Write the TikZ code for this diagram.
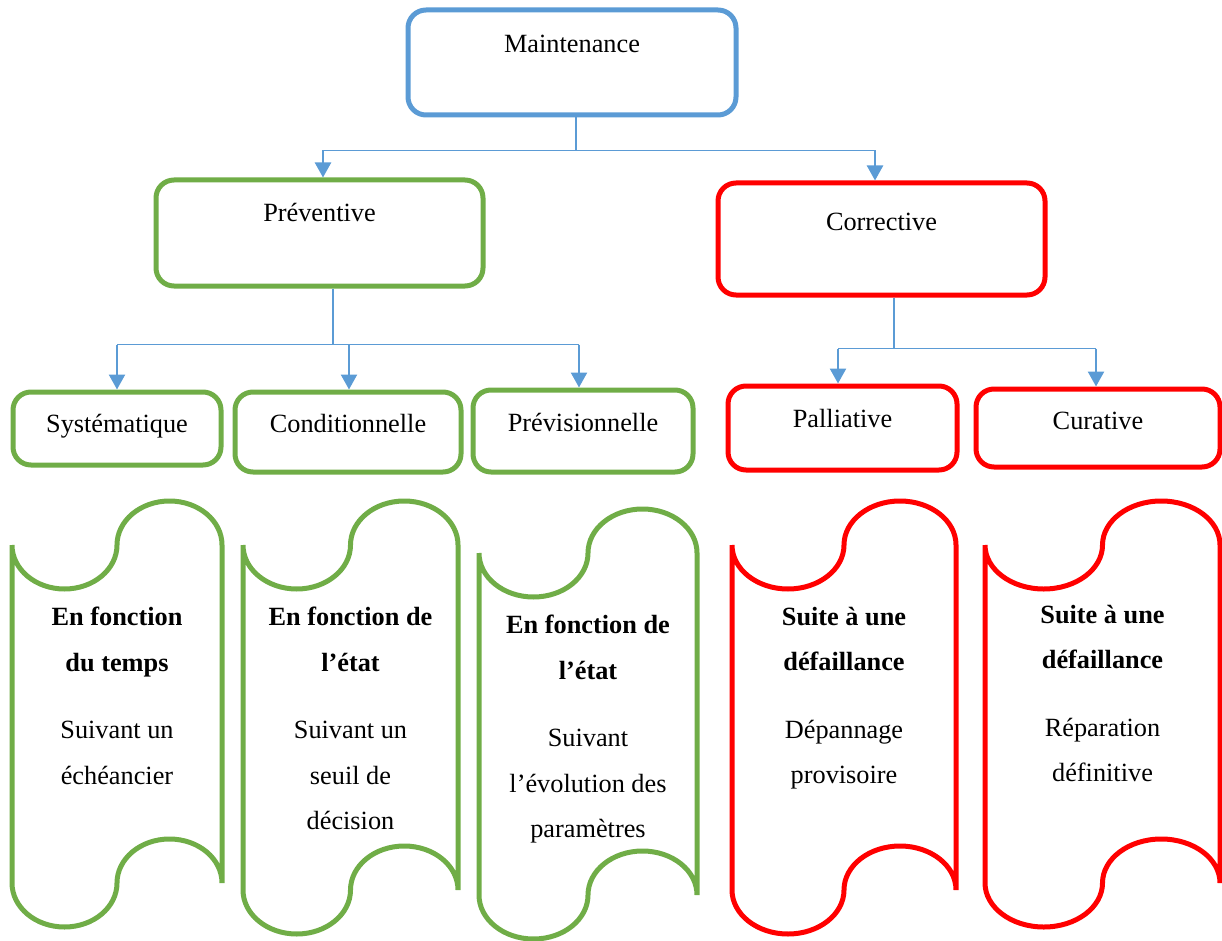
\documentclass[tikz,border=0pt]{standalone}
\usepackage{fontspec}
\setmainfont{Liberation Serif}
\usetikzlibrary{arrows.meta}

\definecolor{mblue}{RGB}{91,155,213}
\definecolor{mgreen}{RGB}{112,173,71}
\definecolor{mred}{RGB}{255,0,0}

\tikzset{
    typebox/.style={draw=#1, text=black, line width=5pt, rounded corners=18pt,
        inner sep=0pt, anchor=base, font=\fontsize{26.3}{30}\selectfont},
    link/.style={mblue, line width=1.3pt},
    feed/.style={mblue, line width=2.4pt, -{Triangle[length=15pt,width=16pt]}},
    scrolltext/.style={anchor=north, inner sep=0pt, align=center,
        font=\fontsize{26.3}{45.5}\selectfont},
    scrollline/.style={line width=5pt}
}

% vertical scroll: left, right, top line, bottom line, colour
\newcommand{\drawscroll}[5]{%
    \pgfmathsetmacro{\scrollrx}{(#2-#1)/4}%
    \draw[scrollline, #5] (#1,-#3) -- (#1,-#4)
        arc[start angle=180, end angle=360, x radius=\scrollrx pt, y radius=44pt]
        arc[start angle=180, end angle=0, x radius=\scrollrx pt, y radius=44pt]
        -- (#2,-#3)
        arc[start angle=0, end angle=180, x radius=\scrollrx pt, y radius=44pt]
        arc[start angle=0, end angle=-180, x radius=\scrollrx pt, y radius=44pt];
}

\begin{document}
\begin{tikzpicture}[x=1pt, y=1pt]
    \useasboundingbox (0,0) rectangle (1222,-941);

    % Top level
    \node[typebox=mblue, minimum width=328pt, text height=43pt, text depth=62pt]
        (maint) at (572,-53) {Maintenance};

    % Second level
    \node[typebox=mgreen, minimum width=327pt, text height=42pt, text depth=64pt]
        (prev) at (319.5,-222) {Préventive};
    \node[typebox=mred, minimum width=327pt, text height=47pt, text depth=65pt]
        (corr) at (881.5,-230) {Corrective};

    % Third level
    \node[typebox=mgreen, minimum width=208pt, text height=40pt, text depth=33pt]
        (sys) at (117,-432) {Systématique};
    \node[typebox=mgreen, minimum width=226pt, text height=40pt, text depth=40pt]
        (cond) at (348,-432) {Conditionnelle};
    \node[typebox=mgreen, minimum width=220pt, text height=41pt, text depth=41pt]
        (prevs) at (583,-431) {Prévisionnelle};
    \node[typebox=mred, minimum width=229pt, text height=41pt, text depth=43pt]
        (pall) at (842.5,-427) {Palliative};
    \node[typebox=mred, minimum width=244pt, text height=40pt, text depth=38pt]
        (cura) at (1098,-429) {Curative};

    % Maintenance -> Preventive / Corrective
    \draw[link] ([xshift=4pt]maint.south) -- ++(0,-33) coordinate (mj);
    \coordinate (mjl) at ([xshift=3.5pt]prev.north |- mj);
    \coordinate (mjr) at ([xshift=-6.5pt]corr.north |- mj);
    \draw[link] (mjl) -- (mjr);
    \draw[feed] (mjl) -- ([xshift=3.5pt]prev.north);
    \draw[feed] (mjr) -- ([xshift=-6.5pt]corr.north);

    % Preventive -> three kinds
    \draw[link] ([xshift=13.5pt]prev.south) -- ++(0,-56) coordinate (pj);
    \coordinate (pjl) at (sys.north |- pj);
    \coordinate (pjm) at ([xshift=1pt]cond.north |- pj);
    \coordinate (pjr) at ([xshift=-4pt]prevs.north |- pj);
    \draw[link] (pjl) -- (pjr);
    \draw[feed] (pjl) -- (sys.north);
    \draw[feed] (pjm) -- ([xshift=1pt]cond.north);
    \draw[feed] (pjr) -- ([xshift=-4pt]prevs.north);

    % Corrective -> two kinds
    \draw[link] ([xshift=12.5pt]corr.south) -- ++(0,-51) coordinate (cj);
    \coordinate (cjl) at ([xshift=-4.5pt]pall.north |- cj);
    \coordinate (cjr) at ([xshift=-2pt]cura.north |- cj);
    \draw[link] (cjl) -- (cjr);
    \draw[feed] (cjl) -- ([xshift=-4.5pt]pall.north);
    \draw[feed] (cjr) -- ([xshift=-2pt]cura.north);

    % Scrolls
    \drawscroll{12}{222}{545}{883}{mgreen}
    \drawscroll{243}{458}{545}{890}{mgreen}
    \drawscroll{479}{697}{553}{895}{mgreen}
    \drawscroll{732}{956}{545}{890}{mred}
    \drawscroll{985}{1220}{545}{883}{mred}

    % Scroll texts
    \node[scrolltext] (txtsys) at (117,-607)
        {\textbf{En fonction}\\\textbf{du temps}\\[22pt]Suivant un\\échéancier};
    \node[scrolltext] (txtcond) at (350.5,-607)
        {\textbf{En fonction de}\\\textbf{l’état}\\[22pt]Suivant un\\seuil de\\décision};
    \node[scrolltext] (txtprevs) at (588,-615)
        {\textbf{En fonction de}\\\textbf{l’état}\\[22pt]Suivant\\l’évolution des\\paramètres};
    \node[scrolltext] (txtpall) at (844,-607)
        {\textbf{Suite à une}\\\textbf{défaillance}\\[22pt]Dépannage\\provisoire};
    \node[scrolltext] (txtcura) at (1102.5,-605)
        {\textbf{Suite à une}\\\textbf{défaillance}\\[22pt]Réparation\\définitive};
\end{tikzpicture}
\end{document}
